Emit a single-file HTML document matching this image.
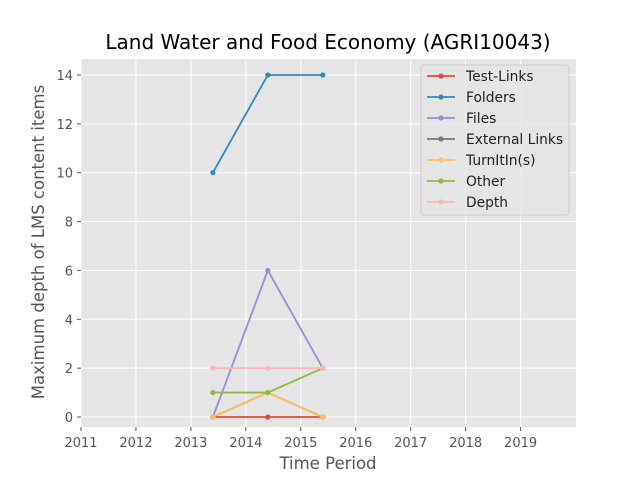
<!DOCTYPE html>
<html><head><meta charset="utf-8"><style>
body{margin:0;background:#fff;}
svg{display:block;font-family:"DejaVu Sans","Liberation Sans",sans-serif;}
</style></head><body>
<svg id="chart" width="640" height="480">
<rect x="0" y="0" width="640" height="480" fill="#fff"/>
<rect x="81" y="59" width="495" height="368" fill="#E5E5E5"/>
<g id="grid"></g>
<g id="series"></g>
<g id="ticks"></g>
<text x="328" y="49" font-size="20" text-anchor="middle" fill="#000">Land Water and Food Economy (AGRI10043)</text>
<text x="328" y="469" font-size="16.5" text-anchor="middle" fill="#555">Time Period</text>
<text x="44" y="242" font-size="16.5" text-anchor="middle" fill="#555" transform="rotate(-90 44 242)">Maximum depth of LMS content items</text>
<g id="legend"></g>
</svg>
<script>
const xTicks=[2011,2012,2013,2014,2015,2016,2017,2018,2019];
const yTicks=[0,2,4,6,8,10,12,14];
const periods=[2013.4,2014.4,2015.4];
const seriesNames=["Test-Links","Folders","Files","External Links","TurnItIn(s)","Other","Depth"];
const testLinks=[0,0,0];
const folders=[10,14,14];
const files=[0,6,2];
const externalLinks=[0,1,0];
const turnItIn=[0,1,0];
const other=[1,1,2];
const depth=[2,2,2];
const colors=["#E24A33","#348ABD","#988ED5","#777777","#FBC15E","#8EBA42","#FFB5B8"];
const allSeries=[testLinks,folders,files,externalLinks,turnItIn,other,depth];
const NS="http://www.w3.org/2000/svg";
function xs(v){return 81+(v-2011)*54.95;}
function ys(v){return 417-v*24.43;}
function mk(tag,attrs,parent){const e=document.createElementNS(NS,tag);for(const k in attrs)e.setAttribute(k,attrs[k]);parent.appendChild(e);return e;}
const grid=document.getElementById('grid'),ticks=document.getElementById('ticks');
xTicks.forEach(t=>{
 const g=mk('line',{x1:xs(t),x2:xs(t),y1:59,y2:427,stroke:'#fff','stroke-width':1},grid);
 
 
 const tk=mk('line',{x1:xs(t),x2:xs(t),y1:427,y2:431,stroke:'#555'},ticks);
 
 
 const l=mk('text',{x:xs(t),y:447,'font-size':13,'text-anchor':'middle',fill:'#555'},ticks);
 l.textContent=t;
 
 
});
yTicks.forEach(t=>{
 const g=mk('line',{x1:81,x2:576,y1:ys(t),y2:ys(t),stroke:'#fff','stroke-width':1},grid);
 
 
 const tk=mk('line',{x1:77,x2:81,y1:ys(t),y2:ys(t),stroke:'#555'},ticks);
 
 
 const l=mk('text',{x:73,y:ys(t)+5,'font-size':13,'text-anchor':'end',fill:'#555'},ticks);
 l.textContent=t;
 
 
});
const sg=document.getElementById('series');
allSeries.forEach((s,i)=>{
 const g=mk('g',{},sg);
 
 
 mk('polyline',{points:s.map((v,j)=>xs(periods[j])+','+ys(v)).join(' '),fill:'none',stroke:colors[i],'stroke-width':1.8},g);
 s.forEach((v,j)=>{
  const c=mk('circle',{cx:xs(periods[j]),cy:ys(v),r:2.6,fill:colors[i]},g);
  
  
 });
});
const lg=document.getElementById('legend');
const box=mk('rect',{x:421,y:65,width:148,height:150,rx:3,fill:'#E5E5E5',stroke:'#ccc','fill-opacity':0.8},lg);


seriesNames.forEach((n,i)=>{
 const y=76+i*21;
 const g=mk('g',{},lg);
 
 
 mk('line',{x1:427,x2:455,y1:y,y2:y,stroke:colors[i],'stroke-width':1.8},g);
 mk('circle',{cx:441,cy:y,r:2.6,fill:colors[i]},g);
 const t=mk('text',{x:466,y:y+5,'font-size':13.8,fill:'#222'},g);
 t.textContent=n;
});
</script>
</body></html>
